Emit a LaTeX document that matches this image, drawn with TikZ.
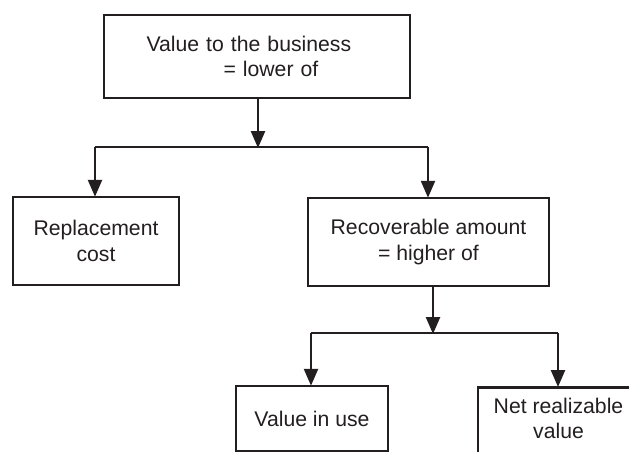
\documentclass[tikz,border=0pt]{standalone}
\usepackage{fontspec}
\setmainfont{Liberation Sans}
\usetikzlibrary{arrows.meta}
\definecolor{ink}{RGB}{35,31,32}
\begin{document}
\begin{tikzpicture}[x=1pt,y=-1pt,
  box/.style={draw=ink, line width=2.5pt, fill=white, inner sep=0pt, align=center,
    text=ink, font=\fontsize{21.2}{25.5}\selectfont},
  txt/.style={text=ink, inner sep=0pt, align=center, font=\fontsize{21.2}{25.5}\selectfont},
  conn/.style={draw=ink, line width=2.5pt},
  arr/.style={conn, -{Triangle[length=17pt,width=14pt]}, shorten >=-1pt}]
\useasboundingbox (0,0) rectangle (629,452);
\clip (0,0) rectangle (629,452);
% boxes
\node[box, minimum width=306pt, minimum height=83pt, text width=221pt, align=left] (top) at (257,56.5)
  {Value to the business\\\hspace*{77pt}= lower of};
\node[box, minimum width=166pt, minimum height=88pt] (repl) at (96,241) {Replacement\\cost};
\node[box, minimum width=241pt, minimum height=88pt] (recov) at (428.5,242) {Recoverable amount\\= higher of};
\node[box, minimum width=152pt, minimum height=65pt] (use) at (312,418.5) {Value in use};
\node[box, minimum width=161pt, minimum height=80pt, anchor=north] (net) at (558.5,386) {};
\node[txt] (netlabel) at (558.5,418.5) {Net realizable\\value};
% first level connectors
\coordinate (j1) at (258,147);
\coordinate (b1l) at (95,147);
\coordinate (b1r) at (428,147);
\draw[arr] (top.south -| j1) -- (j1);
\draw[conn] (b1l) -- (b1r);
\draw[arr] (b1l) -- (b1l |- repl.north);
\draw[arr] (b1r) -- (b1r |- recov.north);
% second level connectors
\coordinate (j2) at (433,333);
\coordinate (b2l) at (311,333);
\coordinate (b2r) at (558,333);
\draw[arr] (recov.south -| j2) -- (j2);
\draw[conn] (b2l) -- (b2r);
\draw[arr] (b2l) -- (b2l |- use.north);
\draw[arr] (b2r) -- (b2r |- net.north);
\end{tikzpicture}
\end{document}
